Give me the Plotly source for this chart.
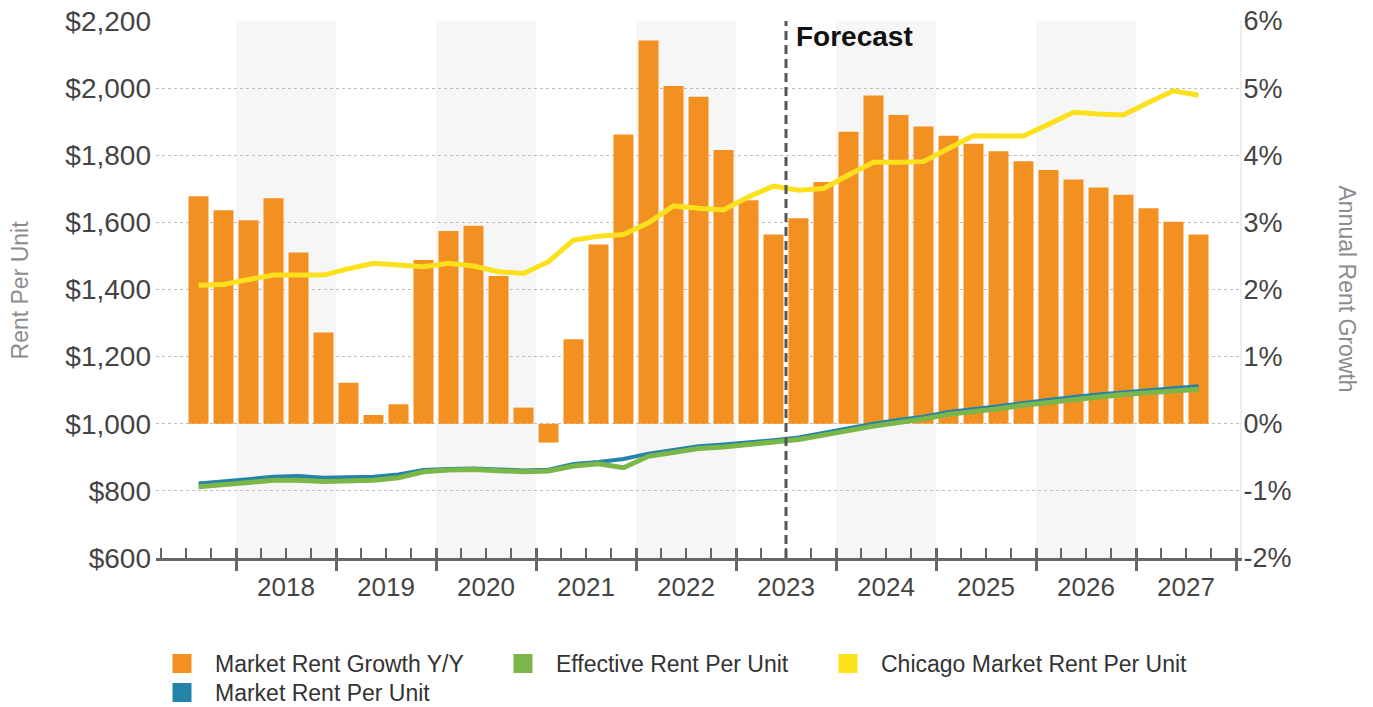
import plotly.graph_objects as go

# ---------------- data ----------------
quarters = [
    "2017 Q3", "2017 Q4",
    "2018 Q1", "2018 Q2", "2018 Q3", "2018 Q4",
    "2019 Q1", "2019 Q2", "2019 Q3", "2019 Q4",
    "2020 Q1", "2020 Q2", "2020 Q3", "2020 Q4",
    "2021 Q1", "2021 Q2", "2021 Q3", "2021 Q4",
    "2022 Q1", "2022 Q2", "2022 Q3", "2022 Q4",
    "2023 Q1", "2023 Q2", "2023 Q3", "2023 Q4",
    "2024 Q1", "2024 Q2", "2024 Q3", "2024 Q4",
    "2025 Q1", "2025 Q2", "2025 Q3", "2025 Q4",
    "2026 Q1", "2026 Q2", "2026 Q3", "2026 Q4",
    "2027 Q1", "2027 Q2", "2027 Q3",
]
years = ["2018", "2019", "2020", "2021", "2022", "2023", "2024", "2025", "2026", "2027"]
shaded_years = ["2018", "2020", "2022", "2024", "2026"]
forecast_start = "2023 Q3"

# Market Rent Growth Y/Y (%)
growth = [3.39, 3.18, 3.03, 3.36, 2.55, 1.36, 0.61, 0.13, 0.29, 2.44,
          2.87, 2.95, 2.20, 0.24, -0.28, 1.26, 2.67, 4.31, 5.71, 5.03,
          4.87, 4.08, 3.33, 2.82, 3.06, 3.60, 4.35, 4.89, 4.60, 4.43,
          4.29, 4.17, 4.06, 3.91, 3.78, 3.64, 3.52, 3.41, 3.21, 3.01, 2.82]
# Market Rent Per Unit ($)
market_rent = [822, 827, 835, 842, 844, 839, 841, 842, 849, 862,
               865, 867, 864, 861, 863, 880, 886, 895, 911, 921,
               933, 938, 944, 951, 959, 973, 988, 1000, 1011, 1021,
               1035, 1042, 1052, 1062, 1072, 1080, 1087, 1094, 1100, 1106, 1112]
# Effective Rent Per Unit ($)
effective_rent = [812, 817, 825, 832, 832, 828, 830, 832, 839, 857,
                  862, 864, 860, 857, 859, 874, 881, 869, 903, 916,
                  926, 931, 938, 944, 953, 966, 981, 993, 1004, 1014,
                  1028, 1035, 1045, 1055, 1064, 1073, 1080, 1087, 1093, 1098, 1103]
# Chicago Market Rent Per Unit ($)
chicago_rent = [1413, 1415, 1430, 1443, 1443, 1443, 1462, 1478, 1473, 1468,
                1478, 1470, 1453, 1448, 1483, 1547, 1559, 1564, 1599, 1649,
                1642, 1637, 1676, 1708, 1696, 1701, 1741, 1779, 1779, 1781,
                1820, 1858, 1857, 1857, 1892, 1928, 1923, 1920, 1957, 1992, 1979]

rent_ticks = [600, 800, 1000, 1200, 1400, 1600, 1800, 2000, 2200]
rent_labels = ["$600", "$800", "$1,000", "$1,200", "$1,400", "$1,600",
               "$1,800", "$2,000", "$2,200"]
growth_ticks = [-2, -1, 0, 1, 2, 3, 4, 5, 6]
growth_labels = ["-2%", "-1%", "0%", "1%", "2%", "3%", "4%", "5%", "6%"]

# ---------------- styling ----------------
ORANGE = "#F39022"
GREEN = "#7AB648"
YELLOW = "#FCE01C"
BLUE = "#2383A8"
AXIS = "#666666"
TICKTXT = "#444444"
FONT = "Liberation Sans, Arial, sans-serif"

# positions on the quarterly linear axis
x = list(range(len(quarters)))
qpos = {q: i for i, q in enumerate(quarters)}
year_start = [qpos[y + " Q1"] - 0.5 for y in years]
year_bounds = year_start + [year_start[-1] + 4]
quarter_bounds = [i - 0.5 for i in range(-1, len(quarters) + 1)]
x_range = [-1.7, len(quarters) + 0.66]

fig = go.Figure()

fig.add_trace(go.Bar(
    x=x, y=growth, name="Market Rent Growth Y/Y", width=0.8,
    marker=dict(color=ORANGE, line=dict(width=0)),
    xaxis="x", yaxis="y", showlegend=False, hovertext=quarters,
))
fig.add_trace(go.Scatter(
    x=x, y=market_rent, name="Market Rent Per Unit", mode="lines",
    line=dict(color=BLUE, width=4), xaxis="x", yaxis="y2", showlegend=False,
    hovertext=quarters,
))
fig.add_trace(go.Scatter(
    x=x, y=effective_rent, name="Effective Rent Per Unit", mode="lines",
    line=dict(color=GREEN, width=5), xaxis="x", yaxis="y2", showlegend=False,
    hovertext=quarters,
))
fig.add_trace(go.Scatter(
    x=x, y=chicago_rent, name="Chicago Market Rent Per Unit", mode="lines",
    line=dict(color=YELLOW, width=5), xaxis="x", yaxis="y2", showlegend=False,
    hovertext=quarters,
))

# legend entries (square swatches), one legend per slot of the 3-column grid
for nm, col, lg in [("Market Rent Growth Y/Y", ORANGE, "legend"),
                    ("Effective Rent Per Unit", GREEN, "legend2"),
                    ("Chicago Market Rent Per Unit", YELLOW, "legend3"),
                    ("Market Rent Per Unit", BLUE, "legend4")]:
    fig.add_trace(go.Scatter(
        x=[None], y=[None], mode="markers", name=nm, legend=lg,
        marker=dict(symbol="square", size=16, color=col, line=dict(color=col, width=3)),
        xaxis="x2", yaxis="y", showlegend=True,
    ))

shapes = []
for y in shaded_years:
    x0 = qpos[y + " Q1"] - 0.5
    shapes.append(dict(type="rect", xref="x", yref="paper", x0=x0, x1=x0 + 4,
                       y0=0, y1=1, fillcolor="#F6F6F6", line=dict(width=0),
                       layer="below"))
fx = qpos[forecast_start] - 0.5
shapes.append(dict(type="line", xref="x", yref="paper", x0=fx, x1=fx, y0=0, y1=1,
                   line=dict(color="#555555", width=3, dash="9px,5px"), layer="above"))

annotations = [
    dict(text="<b>Forecast</b>", xref="x", yref="paper", x=fx, y=1,
         xanchor="left", yanchor="top", xshift=8, yshift=2, showarrow=False,
         font=dict(size=28, color="#111111", family=FONT)),
    dict(text="Rent Per Unit", xref="paper", yref="paper", x=-0.1255, y=0.5,
         xanchor="center", yanchor="middle", textangle=-90, showarrow=False,
         font=dict(size=23, color="#8C8C8C", family=FONT)),
    dict(text="Annual Rent Growth", xref="paper", yref="paper", x=1.0996, y=0.5,
         xanchor="center", yanchor="middle", textangle=90, showarrow=False,
         font=dict(size=23, color="#8C8C8C", family=FONT)),
]

legend_common = dict(
    orientation="h", xref="container", yref="container",
    xanchor="left", yanchor="top", itemwidth=56,
    font=dict(size=23, color="#333333", family=FONT),
    bgcolor="rgba(0,0,0,0)",
)
ROW1, ROW2 = 0.0930, 0.0515

# page body has an 8px margin: figure is 1365x699 so the page is 1373x707
fig.update_layout(
    width=1365, height=699,
    margin=dict(l=148, r=133, t=13, b=149, autoexpand=False),
    plot_bgcolor="white", paper_bgcolor="white",
    font=dict(family=FONT, color=TICKTXT),
    barmode="overlay",
    shapes=shapes, annotations=annotations,
    xaxis=dict(
        range=x_range, tickmode="array", tickvals=year_bounds,
        ticktext=years + [""], ticks="inside", ticklen=10, tickwidth=3,
        tickcolor=AXIS, showline=True, linecolor=AXIS, linewidth=3,
        showgrid=False, zeroline=False, ticklabelshift=50, ticklabelstandoff=4,
        automargin=False, tickfont=dict(size=26, color=TICKTXT),
        minor=dict(tickvals=quarter_bounds, ticks="inside", ticklen=10,
                   tickwidth=2, tickcolor=AXIS, showgrid=False),
    ),
    xaxis2=dict(
        overlaying="x", anchor="y", side="bottom", range=x_range,
        tickmode="array", tickvals=year_bounds, ticks="outside", ticklen=12,
        tickwidth=3, tickcolor=AXIS, showticklabels=False, showline=False,
        showgrid=False, zeroline=False, automargin=False,
    ),
    yaxis=dict(
        side="right", range=[-2, 6], tickmode="array", tickvals=growth_ticks,
        ticktext=growth_labels, showgrid=True, gridcolor="#BDBDBD", griddash="dot",
        gridwidth=1, zeroline=False, showline=True, linecolor="#EEEEEE",
        linewidth=2, ticks="", automargin=False, ticklabelstandoff=-4,
        ticklabeloverflow="allow", tickfont=dict(size=27, color=TICKTXT),
    ),
    yaxis2=dict(
        overlaying="y", side="left", range=[600, 2200], tickmode="array",
        tickvals=rent_ticks, ticktext=rent_labels, showgrid=False,
        zeroline=False, showline=False, ticks="", automargin=False,
        ticklabelstandoff=4, ticklabeloverflow="allow",
        tickfont=dict(size=28, color=TICKTXT),
    ),
    legend=dict(legend_common, x=0.1033, y=ROW1),
    legend2=dict(legend_common, x=0.3531, y=ROW1),
    legend3=dict(legend_common, x=0.5912, y=ROW1),
    legend4=dict(legend_common, x=0.1033, y=ROW2),
)

fig.write_html("out.html")
